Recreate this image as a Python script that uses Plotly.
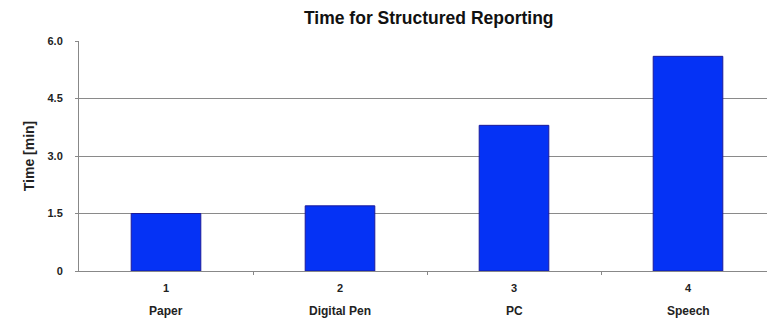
import plotly.graph_objects as go

positions = [1, 2, 3, 4]
categories = ["Paper", "Digital Pen", "PC", "Speech"]
times = [1.5, 1.7, 3.8, 5.6]
y_ticks = [0, 1.5, 3.0, 4.5, 6.0]
y_tick_labels = ["0", "1.5", "3.0", "4.5", "6.0"]

FONT = "Liberation Sans, Arial, sans-serif"

fig = go.Figure()
fig.add_trace(go.Bar(
    x=positions, y=times, width=0.4,
    marker=dict(color="#0532F5", line=dict(color="#1a1a9a", width=1)),
    hoverinfo="skip",
))

for p, c in zip(positions, categories):
    fig.add_annotation(x=p, y=0, xref="x", yref="paper", yanchor="top",
                       yshift=-31, text="<b>%s</b>" % c, showarrow=False,
                       font=dict(family=FONT, size=12, color="#222"))

fig.update_layout(
    width=767, height=320,
    margin=dict(l=79, r=0, t=41, b=49),
    paper_bgcolor="white", plot_bgcolor="white",
    showlegend=False,
    title=dict(text="<b>Time for Structured Reporting</b>", x=0.559, xanchor="center",
               y=0.945, yanchor="middle",
               font=dict(family=FONT, size=17.5, color="#111")),
    font=dict(family=FONT, size=11, color="#222"),
)
fig.update_xaxes(
    range=[0.5, 4.454], tickmode="array", tickvals=positions,
    ticktext=["<b>%d</b>" % p for p in positions],
    tickfont=dict(size=11),
    showgrid=False, zeroline=False,
    showline=True, linecolor="#888", linewidth=1,
    ticks="", ticklabelstandoff=7,
    minor=dict(tickvals=[1.5, 2.5, 3.5], ticks="outside", ticklen=3,
               tickcolor="#888", tickwidth=1),
)
fig.update_yaxes(
    range=[0, 6.0], tickmode="array", tickvals=y_ticks,
    ticktext=["<b>%s</b>" % t for t in y_tick_labels],
    showgrid=True, gridcolor="#8a8a8a", gridwidth=1,
    zeroline=False, showline=True, linecolor="#888", linewidth=1,
    ticks="outside", ticklen=3, tickcolor="#888", ticklabelstandoff=10,
    title=dict(text="<b>Time [min]</b>", standoff=9,
               font=dict(family=FONT, size=14, color="#222")),
)

fig.write_html("out.html")
